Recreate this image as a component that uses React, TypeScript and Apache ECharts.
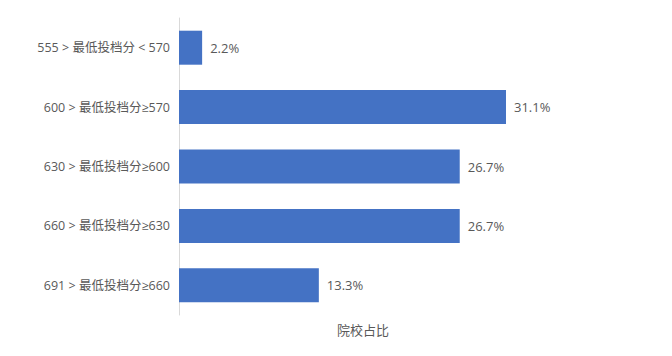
import React, { useEffect, useRef } from "react";
import * as echarts from "echarts";

const categories = [
  "555 > 最低投档分 < 570",
  "600 > 最低投档分≥570",
  "630 > 最低投档分≥600",
  "660 > 最低投档分≥630",
  "691 > 最低投档分≥660",
];
const shares = [2.2, 31.1, 26.7, 26.7, 13.3];
const axisName = "院校占比";

export default function App() {
  const ref = useRef<HTMLDivElement>(null);
  useEffect(() => {
    if (!ref.current) return;
    const chart = echarts.init(ref.current, undefined, { renderer: "svg" });
    const font = '"Open Sans", "DejaVu Sans", "Noto Sans CJK SC", sans-serif';
    chart.setOption({
      animation: false,
      textStyle: { fontFamily: font },
      grid: { left: 171, right: 117, top: 10, bottom: 33, containLabel: false },
      xAxis: {
        type: "value",
        min: 0,
        max: 35,
        name: axisName,
        nameLocation: "middle",
        nameGap: 8,
        nameTextStyle: { color: "#595959", fontSize: 13, fontFamily: font, verticalAlign: "top" },
        axisLabel: { show: false },
        axisLine: { show: false },
        axisTick: { show: false },
        splitLine: { show: false },
      },
      yAxis: {
        type: "category",
        data: categories,
        inverse: true,
        axisLine: { show: true, lineStyle: { color: "#d9d9d9", width: 1 } },
        axisTick: { show: false },
        axisLabel: { color: "#595959", fontSize: 12.5, margin: 9, fontFamily: font },
      },
      series: [
        {
          type: "bar",
          data: shares,
          barWidth: 34,
          itemStyle: { color: "#4472C4" },
          label: {
            show: true,
            position: "right",
            distance: 8,
            color: "#595959",
            fontSize: 13,
            fontFamily: font,
            formatter: (p: any) => p.value.toFixed(1) + "%",
          },
        },
      ],
    });
    return () => chart.dispose();
  }, []);
  return <div ref={ref} style={{ width: 656, height: 340 }} />;
}
